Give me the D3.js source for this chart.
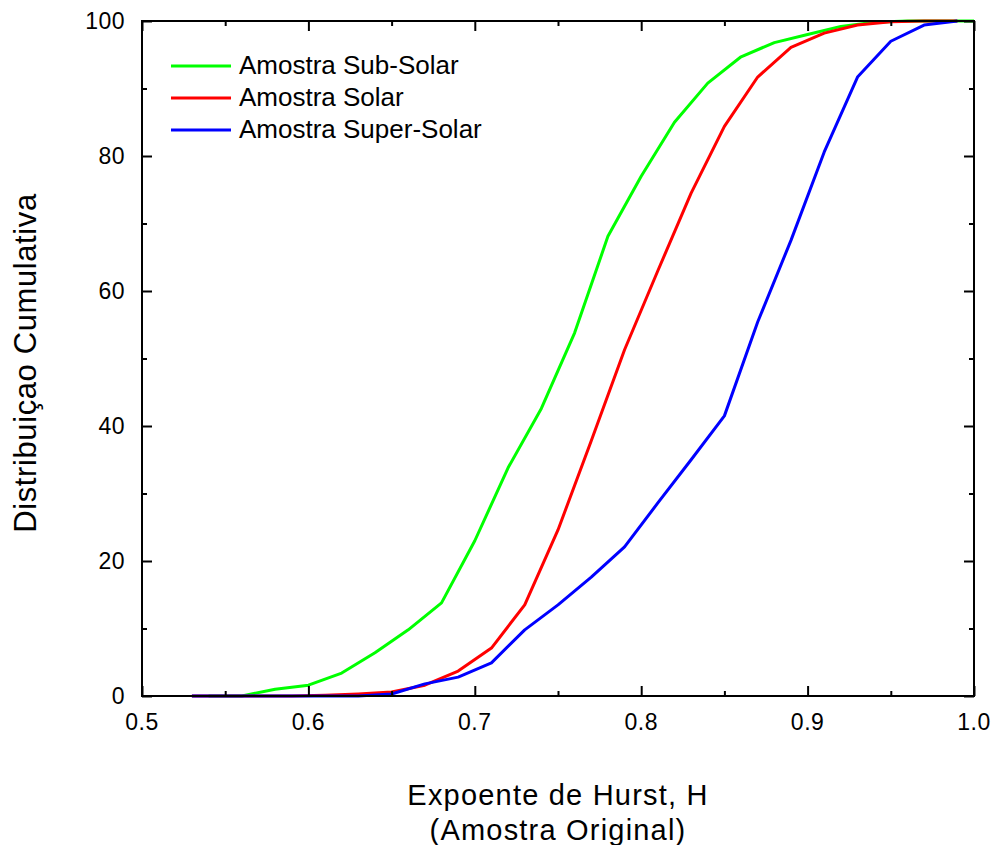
<!DOCTYPE html>
<html><head><meta charset="utf-8">
<script src="https://cdn.jsdelivr.net/npm/d3@7"></script>
<style>body{margin:0;background:#fff}svg{display:block;font-family:"Liberation Sans",Arial,sans-serif}</style>
</head><body><svg id="c" width="995" height="845"></svg>
<script>
const subX = [0.54,0.56,0.58,0.60,0.62,0.64,0.66,0.68,0.70,0.72,0.74,0.76,0.78,0.80,0.82,0.84,0.86,0.88,0.90,0.92,0.94,0.96,0.98,1.00];
const subY = [0,0,1.0,1.6,3.4,6.4,9.8,13.8,23,33.8,42.6,53.8,68.1,77,85,90.8,94.7,96.8,98,99.2,99.8,100,100,100];
const solX = [0.53,0.55,0.57,0.59,0.61,0.63,0.65,0.67,0.69,0.71,0.73,0.75,0.77,0.79,0.81,0.83,0.85,0.87,0.89,0.91,0.93,0.95,0.97,0.99];
const solY = [0,0,0,0,0.1,0.3,0.6,1.6,3.7,7.1,13.5,24.6,37.8,51.3,63,74.5,84.4,91.7,96.1,98.2,99.4,99.9,100,100];
const supX = [0.53,0.55,0.57,0.59,0.61,0.63,0.65,0.67,0.69,0.71,0.73,0.75,0.77,0.79,0.81,0.83,0.85,0.87,0.89,0.91,0.93,0.95,0.97,0.99];
const supY = [0,0,0,0,0,0,0.3,1.8,2.8,4.9,9.8,13.5,17.6,22.1,28.6,35,41.5,55.4,67.5,80.6,91.7,97,99.4,100];
const seriesNames = ["Amostra Sub-Solar","Amostra Solar","Amostra Super-Solar"];
const seriesColors = ["#00ff00","#ff0000","#0000ff"];
const xTicks = [0.5,0.6,0.7,0.8,0.9,1.0];
const yTicks = [0,20,40,60,80,100];

const svg = d3.select("#c");
const L=142,R=974,T=21,B=696;
const x = d3.scaleLinear().domain([0.5,1.0]).range([L,R]);
const y = d3.scaleLinear().domain([0,100]).range([B,T]);

const series = [[subX,subY],[solX,solY],[supX,supY]];
const line = d3.line().x(d=>x(d[0])).y(d=>y(d[1]));
const g = svg.append("g");
series.forEach((s,i)=>{
  const pts = s[0].map((v,j)=>[v,s[1][j]]);
  g.append("path").datum(pts).attr("d",line).attr("fill","none")
   .attr("stroke",seriesColors[i]).attr("stroke-width",3).attr("stroke-linejoin","round");
});
const minorX = d3.range(0.55,1.0,0.1);
const minorY = d3.range(10,100,20);
function ax(gen, tr, ticks, len){
  const a = svg.append("g").attr("transform",tr).call(gen.tickValues(ticks).tickSize(len).tickSizeOuter(0).tickFormat(()=>""));
  a.select(".domain").remove();
  a.selectAll("line").attr("stroke","#000").attr("stroke-width",2);
  return a;
}
ax(d3.axisTop(x), `translate(0,${B})`, xTicks, 10);
ax(d3.axisTop(x), `translate(0,${B})`, minorX, 5);
ax(d3.axisBottom(x), `translate(0,${T})`, xTicks, 10);
ax(d3.axisBottom(x), `translate(0,${T})`, minorX, 5);
ax(d3.axisRight(y), `translate(${L},0)`, yTicks, 10);
ax(d3.axisRight(y), `translate(${L},0)`, minorY, 5);
ax(d3.axisLeft(y), `translate(${R},0)`, yTicks, 10);
ax(d3.axisLeft(y), `translate(${R},0)`, minorY, 5);

svg.append("g").selectAll("text").data(xTicks).join("text")
  .attr("x",d=>x(d)).attr("y",B+34).attr("text-anchor","middle").attr("font-size",23).attr("letter-spacing","0.5px")
  .text(d=>d3.format(".1f")(d));
svg.append("g").selectAll("text").data(yTicks).join("text")
  .attr("x",L-17).attr("y",d=>y(d)+8).attr("text-anchor","end").attr("font-size",23).attr("letter-spacing","0.5px")
  .text(d=>d);

svg.append("rect").attr("x",L).attr("y",T).attr("width",R-L).attr("height",B-T)
  .attr("fill","none").attr("stroke","#000").attr("stroke-width",2);

svg.append("text").attr("x",(L+R)/2).attr("y",805).attr("text-anchor","middle").attr("font-size",29).attr("letter-spacing","1.2px").text("Expoente de Hurst, H");
svg.append("text").attr("x",(L+R)/2).attr("y",840).attr("text-anchor","middle").attr("font-size",29).attr("letter-spacing","1.2px").text("(Amostra Original)");
svg.append("text").attr("transform",`translate(36,363) rotate(-90)`).attr("text-anchor","middle").attr("font-size",31).attr("letter-spacing","0.6px").text("Distribuiçao Cumulativa");

const lg = svg.append("g");
seriesNames.forEach((n,i)=>{
  const yy = 66 + i*32;
  lg.append("line").attr("x1",171).attr("x2",231).attr("y1",yy).attr("y2",yy).attr("stroke",seriesColors[i]).attr("stroke-width",3);
  lg.append("text").attr("x",239).attr("y",yy+8).attr("font-size",26).text(n);
});
</script></body></html>
